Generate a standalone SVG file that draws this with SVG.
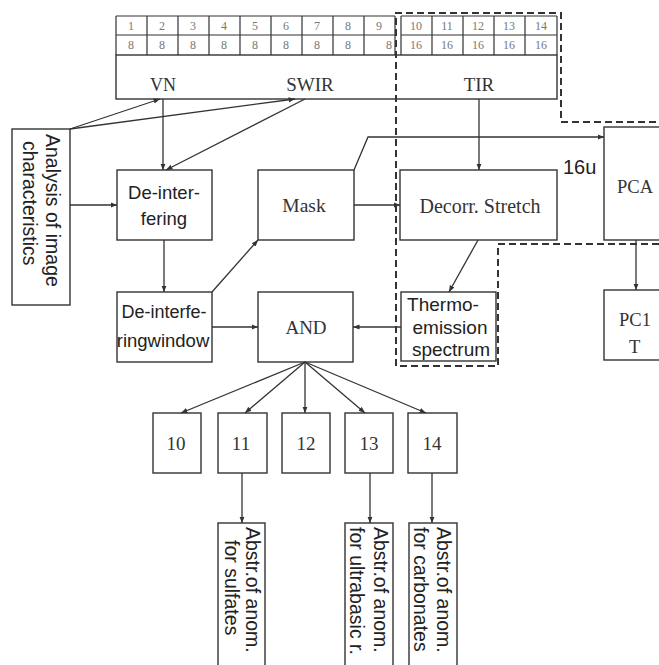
<svg xmlns="http://www.w3.org/2000/svg" width="659" height="665" viewBox="0 0 659 665">
<style>
.box{fill:#fff;stroke:#333;stroke-width:1.4}
.cell{fill:none;stroke:#333;stroke-width:1.2}
.ln{fill:none;stroke:#333;stroke-width:1.3}
.dash{fill:none;stroke:#333;stroke-width:2;stroke-dasharray:7,4}
.serif{font-family:"Liberation Serif",serif;fill:#333}
.sans{font-family:"Liberation Sans",Arial,sans-serif;fill:#222}
.num{font-family:"Liberation Serif",serif;font-size:12px;fill:#777;text-anchor:middle}
.c{text-anchor:middle}
</style>
<defs>
<marker id="ah" viewBox="0 0 10 10" refX="10" refY="5" markerWidth="5" markerHeight="5" orient="auto">
<path d="M0,1 L10,5 L0,9 z" fill="#333"/>
</marker>
</defs>
<rect width="659" height="665" fill="#fff"/>

<g id="bands">
<rect class="box" x="116" y="55" width="441" height="44"/>
<path class="cell" d="M116,16 H395 M116,35 H395 M116,55 V16 M147,16 V55 M178,16 V55 M209,16 V55 M240,16 V55 M271,16 V55 M302,16 V55 M333,16 V55 M364,16 V55 M395,16 V55"/>
<path class="cell" d="M401,16 H557 M401,35 H557 M401,16 V55 M432,16 V55 M463,16 V55 M494,16 V55 M525,16 V55 M557,16 V55"/>
<g class="num">
<text x="131" y="30">1</text><text x="162" y="30">2</text><text x="193" y="30">3</text><text x="224" y="30">4</text><text x="255" y="30">5</text><text x="286" y="30">6</text><text x="317" y="30">7</text><text x="348" y="30">8</text><text x="379" y="30">9</text>
<text x="131" y="49">8</text><text x="162" y="49">8</text><text x="193" y="49">8</text><text x="224" y="49">8</text><text x="255" y="49">8</text><text x="286" y="49">8</text><text x="317" y="49">8</text><text x="348" y="49">8</text><text x="389" y="49">8</text>
<text x="416" y="30">10</text><text x="447" y="30">11</text><text x="478" y="30">12</text><text x="509" y="30">13</text><text x="541" y="30">14</text>
<text x="416" y="49">16</text><text x="447" y="49">16</text><text x="478" y="49">16</text><text x="509" y="49">16</text><text x="541" y="49">16</text>
</g>
<text class="serif c" x="163" y="91" font-size="18">VN</text>
<text class="serif c" x="310" y="91" font-size="19">SWIR</text>
<text class="serif c" x="479" y="91" font-size="19">TIR</text>
</g>

<path id="region" class="dash" d="M396,366 V13 H561 V122 H659 M659,244 H498 V366 H396"/>

<g id="analysis">
<rect class="box" x="12" y="129" width="58" height="176"/>
<text class="sans" font-size="19.5" transform="translate(46,134) rotate(90)">Analysis of image</text>
<text class="sans" font-size="19.5" transform="translate(23,141) rotate(90)">characteristics</text>
</g>

<g id="deint">
<rect class="box" x="117" y="170" width="95" height="70"/>
<text class="sans c" x="164" y="199" font-size="18.5">De-inter-</text>
<text class="sans c" x="164" y="225" font-size="18.5">fering</text>
</g>

<g id="window">
<rect class="box" x="117" y="292" width="95" height="70"/>
<text class="sans c" x="164" y="318" font-size="18">De-interfe-</text>
<text class="sans c" x="163" y="347" font-size="18.5">ringwindow</text>
</g>

<g id="mask">
<rect class="box" x="258" y="170" width="96" height="70"/>
<text class="serif c" x="304" y="212" font-size="19.5">Mask</text>
</g>

<g id="decorr">
<rect class="box" x="400" y="170" width="157" height="70"/>
<text class="serif c" x="480" y="213" font-size="20">Decorr. Stretch</text>
</g>

<text class="sans" x="563" y="174" font-size="20">16u</text>

<g id="pca">
<rect class="box" x="604" y="127" width="70" height="113"/>
<text class="serif" x="617" y="193" font-size="18.5">PCA</text>
</g>

<g id="pc1">
<rect class="box" x="604" y="290" width="70" height="70"/>
<text class="serif" x="619" y="326" font-size="18.5">PC1</text>
<text class="serif" x="629" y="353" font-size="18.5">T</text>
</g>

<g id="and">
<rect class="box" x="258" y="292" width="95" height="70"/>
<text class="serif c" x="306" y="334" font-size="19">AND</text>
</g>

<g id="thermo">
<rect class="box" x="401" y="292" width="95" height="69"/>
<text class="sans c" x="443" y="311" font-size="19">Thermo-</text>
<text class="sans c" x="450" y="334" font-size="19">emission</text>
<text class="sans c" x="451" y="356" font-size="19">spectrum</text>
</g>

<g id="b10"><rect class="box" x="153" y="413" width="48" height="60"/><text class="serif c" x="176" y="450" font-size="19">10</text></g>
<g id="b11"><rect class="box" x="218" y="413" width="49" height="60"/><text class="serif c" x="241" y="450" font-size="19">11</text></g>
<g id="b12"><rect class="box" x="282" y="413" width="48" height="60"/><text class="serif c" x="306" y="450" font-size="19">12</text></g>
<g id="b13"><rect class="box" x="345" y="413" width="48" height="60"/><text class="serif c" x="369" y="450" font-size="19">13</text></g>
<g id="b14"><rect class="box" x="408" y="413" width="49" height="60"/><text class="serif c" x="432" y="450" font-size="19">14</text></g>

<g id="sulfates">
<rect class="box" x="218" y="523" width="47" height="150"/>
<text class="sans" font-size="19.5" transform="translate(246,527) rotate(90)">Abstr.of anom.</text>
<text class="sans" font-size="19.5" transform="translate(225,540) rotate(90)">for sulfates</text>
</g>
<g id="ultrabasic">
<rect class="box" x="345" y="523" width="48" height="150"/>
<text class="sans" font-size="19.5" transform="translate(374,527) rotate(90)">Abstr.of anom.</text>
<text class="sans" font-size="19.5" transform="translate(350,527) rotate(90)">for ultrabasic r.</text>
</g>
<g id="carbonates">
<rect class="box" x="409" y="523" width="48" height="150"/>
<text class="sans" font-size="19.5" transform="translate(437,527) rotate(90)">Abstr.of anom.</text>
<text class="sans" font-size="19.5" transform="translate(414,527) rotate(90)">for carbonates</text>
</g>

<g id="connectors" class="ln">
<path d="M70,129 L160,99" marker-end="url(#ah)"/>
<path d="M70,129 L295,99" marker-end="url(#ah)"/>
<path d="M163,99 V170" marker-end="url(#ah)"/>
<path d="M305,99 L166,170" marker-end="url(#ah)"/>
<path d="M70,205 H117" marker-end="url(#ah)"/>
<path d="M164,240 V292" marker-end="url(#ah)"/>
<path d="M212,292 L258,240" marker-end="url(#ah)"/>
<path d="M354,170 L368,137 H604" marker-end="url(#ah)"/>
<path d="M479,99 V170" marker-end="url(#ah)"/>
<path d="M354,205 H400" marker-end="url(#ah)"/>
<path d="M478,240 L449,292" marker-end="url(#ah)"/>
<path d="M636,240 V290" marker-end="url(#ah)"/>
<path d="M212,327 H258" marker-end="url(#ah)"/>
<path d="M401,327 H353" marker-end="url(#ah)"/>
<path d="M305,362 L181,413" marker-end="url(#ah)"/>
<path d="M305,362 L245,413" marker-end="url(#ah)"/>
<path d="M305,362 V413" marker-end="url(#ah)"/>
<path d="M305,362 L365,413" marker-end="url(#ah)"/>
<path d="M305,362 L426,413" marker-end="url(#ah)"/>
<path d="M242,473 V523" marker-end="url(#ah)"/>
<path d="M370,473 V523" marker-end="url(#ah)"/>
<path d="M432,473 V523" marker-end="url(#ah)"/>
</g>
</svg>
